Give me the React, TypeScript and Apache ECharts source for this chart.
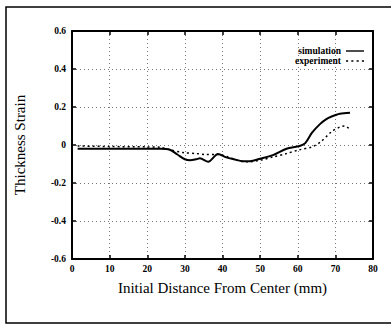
import React, { useEffect, useRef } from "react";
import * as echarts from "echarts";

const simX = [1.5, 5, 10, 15, 20, 23.5, 26, 28, 30, 31.4, 33, 34, 36.2, 38.8, 41, 43, 45.5, 47.3, 50, 53.4, 57, 60.5, 62, 63.8, 65.9, 67.5, 69, 71.2, 73.9];
const simY = [-0.02, -0.02, -0.02, -0.02, -0.02, -0.02, -0.025, -0.05, -0.075, -0.08, -0.075, -0.07, -0.088, -0.047, -0.065, -0.075, -0.085, -0.085, -0.072, -0.053, -0.02, -0.005, 0.01, 0.065, 0.11, 0.135, 0.15, 0.165, 0.17];
const expX = [1.5, 10, 20, 23.5, 26, 29.6, 33, 35.5, 38.8, 41, 44.7, 47, 50, 53.4, 57, 60.5, 63.8, 66, 69, 71.2, 72.5, 74];
const expY = [-0.005, -0.008, -0.01, -0.012, -0.025, -0.04, -0.045, -0.05, -0.05, -0.06, -0.085, -0.088, -0.08, -0.063, -0.045, -0.025, -0.01, 0.015, 0.07, 0.095, 0.1, 0.08];
const seriesNames = ["simulation", "experiment"];
const xTitle = "Initial Distance From Center (mm)";
const yTitle = "Thickness Strain";

const serif = "'Liberation Serif', 'DejaVu Serif', serif";

export default function App() {
  const ref = useRef<HTMLDivElement>(null);
  useEffect(() => {
    const chart = echarts.init(ref.current!, null, { renderer: "svg" });
    const grid = "#777";
    const axisCommon = {
      axisLine: { show: true, onZero: false, lineStyle: { color: "#000", width: 2 } },
      axisTick: { show: true, inside: true, length: 4, lineStyle: { color: "#000", width: 1.5 } },
    };
    chart.setOption({
      animation: false,
      backgroundColor: "#fff",
      textStyle: { fontFamily: serif },
      grid: { left: 72, right: 18, top: 31, bottom: 68, show: false },
      legend: {
        orient: "vertical",
        right: 27,
        top: 46,
        align: "right",
        padding: 0,
        itemWidth: 18,
        itemHeight: 2,
        itemGap: 0,
        textStyle: { fontFamily: serif, fontWeight: "bold", fontSize: 9.5, color: "#000", lineHeight: 10 },
        data: [
          { name: seriesNames[0], icon: "path://M0,0h18v1.4h-18z", itemStyle: { color: "#000" } },
          {
            name: seriesNames[1],
            icon: "path://M0,0h2v1.4h-2z M5,0h2v1.4h-2z M10,0h2v1.4h-2z M15,0h2v1.4h-2z",
            itemStyle: { color: "#000" },
          },
        ],
      },
      xAxis: [
        {
          type: "value",
          min: 0,
          max: 80,
          interval: 10,
          name: xTitle,
          nameLocation: "middle",
          nameGap: 21,
          nameTextStyle: { fontFamily: serif, fontSize: 15, color: "#000" },
          ...axisCommon,
          axisLabel: { fontFamily: serif, fontWeight: "bold", fontSize: 9.5, color: "#000", margin: 5 },
          splitLine: { show: true, lineStyle: { color: grid, width: 1, type: [1, 3] } },
        },
        {
          type: "value",
          position: "top",
          min: 0,
          max: 80,
          interval: 10,
          ...axisCommon,
          axisLabel: { show: false },
          splitLine: { show: false },
        },
      ],
      yAxis: [
        {
          type: "value",
          min: -0.6,
          max: 0.6,
          interval: 0.2,
          name: yTitle,
          nameLocation: "middle",
          nameGap: 45,
          nameRotate: 90,
          nameTextStyle: { fontFamily: serif, fontSize: 15, color: "#000" },
          ...axisCommon,
          axisLabel: {
            fontFamily: serif,
            fontWeight: "bold",
            fontSize: 9.5,
            color: "#000",
            margin: 6,
            formatter: (v: number) => (Math.abs(v) < 1e-9 ? "0" : v.toFixed(1)),
          },
          splitLine: { show: true, lineStyle: { color: grid, width: 1, type: [1, 3] } },
        },
        {
          type: "value",
          position: "right",
          min: -0.6,
          max: 0.6,
          interval: 0.2,
          ...axisCommon,
          axisLabel: { show: false },
          splitLine: { show: false },
        },
      ],
      series: [
        {
          name: seriesNames[0],
          type: "line",
          symbol: "none",
          smooth: 0.3,
          lineStyle: { color: "#000", width: 2 },
          itemStyle: { color: "#000" },
          data: simX.map((x, i) => [x, simY[i]]),
        },
        {
          name: seriesNames[1],
          type: "line",
          symbol: "none",
          smooth: 0.3,
          lineStyle: { color: "#000", width: 1.5, type: [2, 3] },
          itemStyle: { color: "#000" },
          data: expX.map((x, i) => [x, expY[i]]),
        },
      ],
      graphic: [
        {
          type: "polyline",
          shape: { points: [[391, 7], [6, 7], [6, 323], [391, 323]] },
          style: { stroke: "#000", lineWidth: 1.5, fill: null },
          silent: true,
        },
      ],
    });
    return () => chart.dispose();
  }, []);
  return <div ref={ref} style={{ position: "fixed", left: 0, top: 0, width: 391, height: 327 }} />;
}
